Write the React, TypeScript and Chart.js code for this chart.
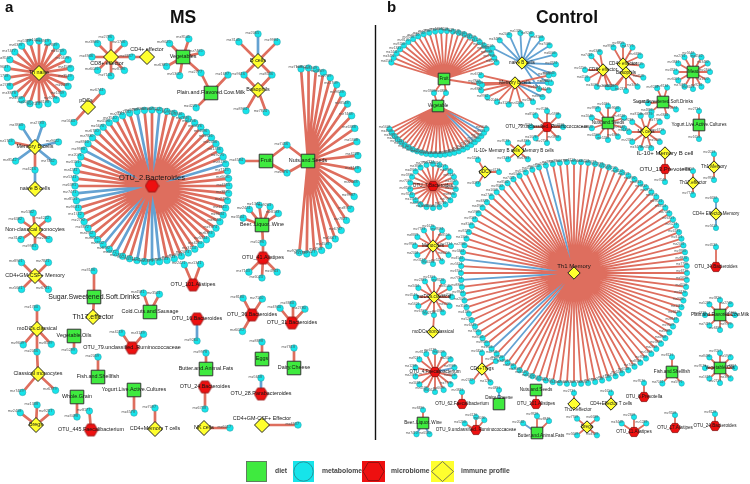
import React, { useEffect, useRef } from 'react';
import { Chart, registerables } from 'chart.js';

Chart.register(...registerables);

type Kind = 'diet' | 'micro' | 'immune';
// id, label, kind, x, y, labelDx, labelDy, fontPx
type Hub = [string, string, Kind, number, number, number?, number?, number?];
// hubId, count, rx, ry, startAngle, endAngle, blue edge indices
type Ring = [string, number, number, number, number, number, number[]];
// hubId, radius, angles, blue edge indices
type Cluster = [string, number, number[], number[]];
// id, x, y (standalone metabolite nodes)
type Chain = [string, number, number];
// from, to, blue(1)/red(0)
type Link = [string, string, number];

// ---------------- MS network ----------------
const msHubs: Hub[] = [
  ['thn', 'Th naive', 'immune', 39, 73],
  ['cd8e', 'CD8+ effector', 'immune', 111, 57, -4, 7],
  ['cd4e', 'CD4+ effector', 'immune', 147, 57, 0, -7],
  ['veg', 'Vegetables', 'diet', 183, 57],
  ['plain', 'Plain.and.Flavored.Cow.Milk', 'diet', 211, 93],
  ['bc', 'B cells', 'immune', 258, 61],
  ['baso', 'Basophils', 'immune', 258, 90],
  ['pdc', 'pDCs', 'immune', 88, 107, -2, -6],
  ['otu2', 'OTU_2.Bacteroides', 'micro', 152, 186, 0, -8, 7.5],
  ['fruit', 'Fruit', 'diet', 266, 161],
  ['nuts', 'Nuts.and.Seeds', 'diet', 308, 161],
  ['beer', 'Beer..Liquor..Wine', 'diet', 262, 225],
  ['otu41', 'OTU_41.Alistipes', 'micro', 263, 258],
  ['mbc', 'Memory B cells', 'immune', 35, 147],
  ['nbc', 'naive B cells', 'immune', 35, 189],
  ['ncm', 'Non-classical monocytes', 'immune', 35, 230],
  ['gmm', 'CD4+GM-CSF+ Memory', 'immune', 35, 276],
  ['sugar', 'Sugar.Sweetened.Soft.Drinks', 'diet', 94, 297, 0, 0, 7],
  ['th17e', 'Th17.effector', 'immune', 93, 317, 0, 0, 7],
  ['cold', 'Cold.Cuts.and.Sausage', 'diet', 150, 312],
  ['otu101', 'OTU_101.Alistipes', 'micro', 193, 285],
  ['otu16', 'OTU_16.Bacteroides', 'micro', 197, 319],
  ['otu36', 'OTU_36.Bacteroides', 'micro', 252, 315],
  ['otu31', 'OTU_31.Bacteroides', 'micro', 292, 323],
  ['modc', 'moDCs.classical', 'immune', 37, 329],
  ['cmono', 'Classical monocytes', 'immune', 38, 374],
  ['vego', 'Vegetable.Oils', 'diet', 74, 336],
  ['otu79', 'OTU_79.unclassified..Ruminococcaceae', 'micro', 132, 348],
  ['fish', 'Fish.and.Shellfish', 'diet', 98, 377],
  ['butter', 'Butter.and.Animal.Fats', 'diet', 206, 369],
  ['eggs', 'Eggs', 'diet', 262, 359],
  ['dairy', 'Dairy.Cheese', 'diet', 294, 368],
  ['otu24', 'OTU_24.Bacteroides', 'micro', 205, 387],
  ['otu28', 'OTU_28.Parabacteroides', 'micro', 261, 394],
  ['yog', 'Yogurt.Live.Active.Cultures', 'diet', 134, 390],
  ['wg', 'Whole.Grain', 'diet', 77, 397],
  ['bregs', 'Bregs', 'immune', 36, 425],
  ['otu445', 'OTU_445.Faecalibacterium', 'micro', 91, 430],
  ['cd4mt', 'CD4+Memory T cells', 'immune', 155, 429],
  ['nk', 'NK cells', 'immune', 204, 428],
  ['gme', 'CD4+GM-CSF+ Effector', 'immune', 262, 425, 0, -6],
];

const msRings: Ring[] = [
  ['thn', 22, 32, 32, -90, 270, []],
  ['otu2', 64, 77, 76, -90, 270, [62, 1, 53, 47, 46, 13, 37, 34, 32, 31, 39]],
  ['nuts', 24, 50, 93, -98, 100, []],
];

const msClusters: Cluster[] = [
  ['cd8e', 19, [45, 90, 135, 180, 225, 270, 315], []],
  ['veg', 19, [-135, -72, -13, 150, 100], []],
  ['plain', 21, [135], []],
  ['bc', 27, [-135, -90, -45], [1]],
  ['baso', 24, [120, 70], []],
  ['pdc', 21, [-47, 132], []],
  ['fruit', 24, [180], []],
  ['beer', 20, [-160, -129, -98, -66, -35], []],
  ['otu41', 20, [135, 93, 45], []],
  ['mbc', 24, [-123, -71, -168, -12, 144, 39], [0, 1, 3, 4, 5]],
  ['ncm', 17, [-145, -96, -40, 146, 34, 90], []],
  ['gmm', 19, [-135, -45, 45, 135], []],
  ['cold', 20, [-109, -62], []],
  ['otu101', 22, [-113, -70], []],
  ['otu16', 22, [90], [0]],
  ['otu36', 19, [-118, -57, 120], []],
  ['otu31', 19, [-129, -87, -47], []],
  ['modc', 21, [-90, 131, 47], []],
  ['cmono', 24, [130, 43], []],
  ['vego', 15, [90], []],
  ['otu79', 18, [-124, -50], []],
  ['fish', 20, [-90], []],
  ['butter', 16, [-90], []],
  ['eggs', 17, [-90], []],
  ['dairy', 20, [-90], []],
  ['otu24', 22, [90], []],
  ['otu28', 16, [-90], [0]],
  ['yog', 23, [90], []],
  ['wg', 20, [90], []],
  ['bregs', 20, [-142, -87, -40], []],
  ['otu445', 19, [-95], []],
  ['cd4mt', 21, [-90], []],
  ['nk', 26, [0], []],
  ['gme', 36, [0], []],
];

const msChain: Chain[] = [
  ['m1', 132, 57], ['m2', 201, 73], ['m3', 228, 75], ['m4', 244, 75], ['m5', 272, 75],
  ['m6', 287, 145], ['m7', 287, 173], ['m8', 263, 243], ['m9', 35, 170], ['m10', 94, 271],
  ['m11', 37, 352],
];

const msLinks: Link[] = [
  ['cd8e', 'm1', 0], ['m1', 'cd4e', 0],
  ['veg', 'm2', 0], ['m2', 'plain', 0], ['plain', 'm3', 0],
  ['bc', 'm4', 0], ['m4', 'baso', 0], ['bc', 'm5', 0], ['m5', 'baso', 0],
  ['fruit', 'm6', 0], ['m6', 'nuts', 0], ['fruit', 'm7', 0], ['m7', 'nuts', 0],
  ['beer', 'm8', 0], ['m8', 'otu41', 0],
  ['mbc', 'm9', 0], ['m9', 'nbc', 1],
  ['m10', 'sugar', 0], ['sugar', 'th17e', 0],
  ['modc', 'm11', 0], ['m11', 'cmono', 0],
];

// ---------------- Control network ----------------
const ctHubs: Hub[] = [
  ['fr', 'Fruit', 'diet', 444, 79],
  ['vg', 'Vegetable', 'diet', 438, 106],
  ['nb', 'naive B cells', 'immune', 522, 63],
  ['mb', 'Memory B cells', 'immune', 515, 83],
  ['c8', 'CD8+ effector', 'immune', 603, 70],
  ['c4', 'CD4+ effector', 'immune', 623, 64],
  ['bs', 'Basophils', 'immune', 626, 73],
  ['mt', 'Meat', 'diet', 693, 72],
  ['sg', 'Sugar.Sweetened.Soft.Drinks', 'diet', 663, 102],
  ['ns', 'Nuts.and.Seeds', 'diet', 608, 123],
  ['nkc', 'NK cells', 'immune', 646, 132],
  ['yg', 'Yogurt.Live.Active.Cultures', 'diet', 699, 125],
  ['o79', 'OTU_79.unclassified..Ruminococcaceae', 'micro', 547, 127],
  ['il', 'IL-10+ Memory B cells  Memory B cells', 'immune', 518, 151, -4, 0],
  ['o7', 'OTU_7.Bacteroides', 'micro', 433, 186],
  ['pd', 'pDCs', 'immune', 485, 172],
  ['ilb', 'IL-10+ Memory B cell', 'immune', 665, 153, 0, 0, 6],
  ['o13', 'OTU_13.Prevotella', 'micro', 665, 169, 0, 0, 6],
  ['t1m', 'Th1 Memory', 'immune', 714, 167],
  ['t17', 'Th17.effector', 'immune', 693, 183],
  ['cem', 'CD4+ Effector Memory', 'immune', 716, 214],
  ['o34', 'OTU_34.Bacteroides', 'micro', 716, 267],
  ['mo', 'Monocytes', 'immune', 433, 246],
  ['th1', 'Th1 Memory', 'immune', 574, 273, 0, -7, 6],
  ['mdc', 'moDCs.classical', 'immune', 434, 297],
  ['mdn', 'moDCs.nonclassical', 'immune', 433, 332],
  ['pfm', 'Plain.and.Flavored.Cow.Milk', 'diet', 720, 315],
  ['o4', 'OTU_4.Faecalibacterium', 'micro', 435, 372],
  ['trg', 'CD4+Tregs', 'immune', 482, 369],
  ['fs', 'Fish.and.Shellfish', 'diet', 672, 372],
  ['vo', 'Vegetable.Oils', 'diet', 720, 368],
  ['ns2', 'Nuts.and.Seeds', 'diet', 536, 390],
  ['o101', 'OTU_101.Alistipes', 'micro', 536, 404],
  ['dc', 'Dairy.Cheese', 'diet', 499, 404, 0, -6],
  ['o62', 'OTU_62.Faecalibacterium', 'micro', 462, 404],
  ['t17b', 'Th17.effector', 'immune', 574, 404, 4, 6],
  ['cet', 'CD4+Effector T cells', 'immune', 611, 404],
  ['o6', 'OTU_6.Prevotella', 'micro', 644, 397],
  ['bw', 'Beer..Liquor..Wine', 'diet', 423, 423],
  ['o9', 'OTU_9.unclassified..Ruminococcaceae', 'micro', 476, 430],
  ['ba', 'Butter.and.Animal.Fats', 'diet', 537, 433, 4, 3],
  ['br', 'Bregs', 'immune', 587, 427],
  ['o11', 'OTU_11.Alistipes', 'micro', 634, 432],
  ['o17', 'OTU_17.Alistipes', 'micro', 675, 428],
  ['o24', 'OTU_24.Bacteroides', 'micro', 715, 426],
];

const ctRings: Ring[] = [
  ['fr', 24, 56, 48, -160, -20, []],
  ['vg', 26, 55, 49, 152, 28, [21, 24]],
  ['nb', 12, 34, 30, -150, 60, [0, 1, 2, 3, 4, 5, 6, 7, 8, 9, 10, 11]],
  ['mb', 12, 36, 22, -20, 200, [1, 3]],
  ['mt', 12, 17, 17, -90, 270, []],
  ['ns', 10, 17, 17, -90, 270, []],
  ['nkc', 10, 17, 17, -72, 288, []],
  ['o79', 8, 16, 16, -90, 270, []],
  ['o7', 22, 23, 22, -90, 270, []],
  ['mo', 12, 18, 18, -90, 270, []],
  ['th1', 100, 113, 111, -90, 270, [96, 77, 74, 63, 61]],
  ['mdc', 11, 18, 18, 120, 420, []],
  ['pfm', 8, 15, 15, -90, 270, []],
  ['o4', 14, 20, 20, -90, 270, [3]],
  ['vo', 8, 15, 15, -90, 270, []],
];

const ctClusters: Cluster[] = [
  ['c8', 18, [-130, -100, 180, 150, 110, 75], []],
  ['c4', 19, [-120, -90, -60, -25, 5], []],
  ['bs', 18, [15, 50, 90, 125], []],
  ['sg', 15, [-113, -74, 175, 30, 140, 74], []],
  ['yg', 14, [-90, 90], []],
  ['il', 13, [-140, -40, 140, 40], []],
  ['pd', 14, [-120, 0, 120], []],
  ['t1m', 13, [-90, 90], []],
  ['t17', 12, [-90, 90], []],
  ['cem', 14, [-90, 90], [0, 1]],
  ['o34', 20, [-90], []],
  ['trg', 16, [-90, 128, 58, -30], []],
  ['fs', 15, [-90, 130, 50], []],
  ['dc', 14, [-90], [0]],
  ['o62', 12, [-90], []],
  ['t17b', 11, [-90], []],
  ['cet', 11, [-90], []],
  ['o6', 14, [-90], []],
  ['bw', 13, [-90, 120, 60], [1, 2]],
  ['o9', 13, [-150, -90, -50], []],
  ['ba', 17, [-145, -90, -45], [0]],
  ['br', 13, [-140, -40, 140, 40], []],
  ['o11', 15, [-145, -90, -35], []],
  ['o17', 13, [-90], []],
  ['o24', 12, [-90], []],
  ['o13', 13, [90], []],
];

const ctChain: Chain[] = [
  ['k1', 434, 93], ['k2', 446, 93], ['k3', 482, 85], ['k4', 434, 315], ['k5', 613, 88],
];

const ctLinks: Link[] = [
  ['fr', 'k1', 0], ['k1', 'vg', 0], ['fr', 'k2', 0], ['k2', 'vg', 0],
  ['fr', 'k3', 0], ['k3', 'mb', 0],
  ['mdc', 'k4', 0], ['k4', 'mdn', 0],
  ['c8', 'k5', 0], ['k5', 'bs', 0],
  ['ilb', 'o13', 0], ['ns2', 'o101', 0],
];

const legendItems = ['diet', 'metabolome', 'microbiome', 'immune profile'];

// ---------------- helpers ----------------
type P = { x: number; y: number | null };
interface HubNode { x: number; y: number; label: string; kind: Kind; dx: number; dy: number; fs: number | null }
interface Built { leaves: P[]; red: P[]; blue: P[]; hubs: HubNode[] }

function build(hubs: Hub[], rings: Ring[], clusters: Cluster[], chain: Chain[], links: Link[]): Built {
  const pos = new Map<string, [number, number]>();
  hubs.forEach((h) => pos.set(h[0], [h[3], h[4]]));
  chain.forEach((c) => pos.set(c[0], [c[1], c[2]]));
  const leaves: P[] = [];
  const red: P[] = [];
  const blue: P[] = [];
  const edge = (a: [number, number], b: [number, number], isBlue: boolean) => {
    const arr = isBlue ? blue : red;
    arr.push({ x: a[0], y: a[1] }, { x: b[0], y: b[1] }, { x: b[0], y: null });
  };
  rings.forEach(([id, n, rx, ry, a0, a1, bl]) => {
    const c = pos.get(id)!;
    const full = Math.abs(a1 - a0) >= 360;
    const step = full ? (a1 - a0) / n : n > 1 ? (a1 - a0) / (n - 1) : 0;
    for (let i = 0; i < n; i++) {
      const t = ((a0 + i * step) * Math.PI) / 180;
      const p: [number, number] = [c[0] + rx * Math.cos(t), c[1] + ry * Math.sin(t)];
      leaves.push({ x: p[0], y: p[1] });
      edge(c, p, bl.includes(i));
    }
  });
  clusters.forEach(([id, r, angles, bl]) => {
    const c = pos.get(id)!;
    angles.forEach((a, i) => {
      const t = (a * Math.PI) / 180;
      const p: [number, number] = [c[0] + r * Math.cos(t), c[1] + r * Math.sin(t)];
      leaves.push({ x: p[0], y: p[1] });
      edge(c, p, bl.includes(i));
    });
  });
  chain.forEach((c) => leaves.push({ x: c[1], y: c[2] }));
  links.forEach(([a, b, bl]) => edge(pos.get(a)!, pos.get(b)!, bl === 1));
  const hubNodes: HubNode[] = hubs.map((h) => ({
    x: h[3], y: h[4], label: h[1], kind: h[2], dx: h[5] ?? 0, dy: h[6] ?? 0, fs: h[7] ?? null,
  }));
  return { leaves, red, blue, hubs: hubNodes };
}

function hexPath(g: CanvasRenderingContext2D, cx: number, cy: number, r: number) {
  g.beginPath();
  for (let k = 0; k < 6; k++) {
    const a = (Math.PI / 3) * k;
    const px = cx + r * Math.cos(a);
    const py = cy + r * Math.sin(a);
    if (k === 0) g.moveTo(px, py);
    else g.lineTo(px, py);
  }
  g.closePath();
}

function hexCanvas(size: number): HTMLCanvasElement {
  const c = document.createElement('canvas');
  c.width = size;
  c.height = size;
  const g = c.getContext('2d')!;
  hexPath(g, size / 2, size / 2, size / 2 - 0.7);
  g.fillStyle = '#EE1010';
  g.fill();
  g.lineWidth = 0.8;
  g.strokeStyle = '#8a1010';
  g.stroke();
  return c;
}

const FONT = '"Liberation Sans", Arial, sans-serif';
const RED_EDGE = 'rgb(222,110,94)';
const BLUE_EDGE = 'rgb(100,162,210)';
const CYAN = '#16E4EA';
const GREEN = '#3FEA3F';
const YELLOW = '#FFFF2E';

export default function App() {
  const ref = useRef<HTMLCanvasElement>(null);

  useEffect(() => {
    document.body.style.margin = '0';
    const ms = build(msHubs, msRings, msClusters, msChain, msLinks);
    const ct = build(ctHubs, ctRings, ctClusters, ctChain, ctLinks);
    const hexMs = hexCanvas(15);
    const hexCt = hexCanvas(12);
    const pick = (b: Built, k: Kind) => b.hubs.filter((h) => h.kind === k).map((h) => ({ x: h.x, y: h.y }));

    const edgeDs = (data: P[], color: string, w: number) => ({
      data, showLine: true, borderColor: color, borderWidth: w, pointRadius: 0, pointHoverRadius: 0, spanGaps: false, order: 20,
    });
    const nodeDs = (data: P[], style: any, r: number, bg: string, border: string, bw: number, order: number) => ({
      data, pointStyle: style, pointRadius: r, pointHoverRadius: r, pointBackgroundColor: bg,
      pointBorderColor: border, pointBorderWidth: bw, showLine: false, order,
    });

    const overlay = {
      id: 'overlay',
      afterDatasetsDraw(chart: any) {
        const ctx: CanvasRenderingContext2D = chart.ctx;
        const xs = chart.scales.x;
        const ys = chart.scales.y;
        ctx.save();
        // metabolite labels
        ctx.fillStyle = '#555';
        ctx.textAlign = 'right';
        ctx.textBaseline = 'middle';
        [ms, ct].forEach((b, pi) => {
          ctx.font = `${pi === 0 ? 3.8 : 3.3}px ${FONT}`;
          b.leaves.forEach((p, i) => {
            const id = 'mz' + String(1000 + ((i * 7919 + pi * 3571) % 8999));
            ctx.fillText(id, xs.getPixelForValue(p.x) + 1, ys.getPixelForValue(p.y as number) - 1.5);
          });
        });
        // hub labels
        ctx.fillStyle = '#151515';
        ctx.textAlign = 'center';
        [ms, ct].forEach((b, pi) => {
          b.hubs.forEach((h) => {
            const fs = h.fs ?? (pi === 0 ? 5.4 : 4.6);
            ctx.font = `${fs}px ${FONT}`;
            ctx.fillText(h.label, xs.getPixelForValue(h.x + h.dx), ys.getPixelForValue(h.y + h.dy));
          });
        });
        ctx.restore();
      },
      afterDraw(chart: any) {
        const ctx: CanvasRenderingContext2D = chart.ctx;
        const xs = chart.scales.x;
        const ys = chart.scales.y;
        const X = (v: number) => xs.getPixelForValue(v);
        const Y = (v: number) => ys.getPixelForValue(v);
        ctx.save();
        ctx.fillStyle = '#111';
        ctx.textBaseline = 'middle';
        ctx.textAlign = 'left';
        ctx.font = `bold 15px ${FONT}`;
        ctx.fillText('a', X(5), Y(8));
        ctx.fillText('b', X(387), Y(8));
        ctx.textAlign = 'center';
        ctx.font = `bold 17.5px ${FONT}`;
        ctx.fillText('MS', X(183), Y(18));
        ctx.fillText('Control', X(567), Y(18));
        // divider
        ctx.strokeStyle = '#111';
        ctx.lineWidth = 1.4;
        ctx.beginPath();
        ctx.moveTo(X(375.5), Y(25));
        ctx.lineTo(X(375.5), Y(440));
        ctx.stroke();
        // legend
        const boxX = [246, 293, 362, 431];
        const txtX = [275, 322, 391, 461];
        const top = Y(461);
        const sz = 21;
        legendItems.forEach((t, i) => {
          const bx = X(boxX[i]);
          const cx = bx + sz / 2;
          const cy = top + sz / 2;
          ctx.lineWidth = 0.8;
          if (i === 0) {
            ctx.fillStyle = GREEN;
            ctx.fillRect(bx, top, sz, sz);
            ctx.strokeStyle = '#666';
            ctx.strokeRect(bx + 0.5, top + 0.5, sz - 1, sz - 1);
          } else if (i === 1) {
            ctx.fillStyle = CYAN;
            ctx.fillRect(bx, top, sz, sz);
            ctx.strokeStyle = '#2a7f86';
            ctx.beginPath();
            ctx.arc(cx, cy, sz / 2 - 0.8, 0, Math.PI * 2);
            ctx.stroke();
          } else if (i === 2) {
            ctx.fillStyle = '#EE1010';
            ctx.fillRect(bx, top, sz + 2, sz);
            ctx.strokeStyle = '#7a1010';
            hexPath(ctx, cx + 1, cy, sz / 2);
            ctx.stroke();
          } else {
            ctx.fillStyle = YELLOW;
            ctx.fillRect(bx, top, sz + 2, sz);
            ctx.strokeStyle = '#555';
            ctx.beginPath();
            ctx.moveTo(cx + 1, top + 0.5);
            ctx.lineTo(bx + sz + 1.5, cy);
            ctx.lineTo(cx + 1, top + sz - 0.5);
            ctx.lineTo(bx + 0.5, cy);
            ctx.closePath();
            ctx.stroke();
          }
          ctx.fillStyle = '#444';
          ctx.textAlign = 'left';
          ctx.font = `bold 6.8px ${FONT}`;
          ctx.fillText(t, X(txtX[i]), cy);
        });
        ctx.restore();
      },
    };

    const chart = new Chart(ref.current!, {
      type: 'scatter',
      data: {
        datasets: [
          edgeDs(ms.red, RED_EDGE, 2.7) as any,
          edgeDs(ms.blue, BLUE_EDGE, 2.7),
          edgeDs(ct.red, RED_EDGE, 1.8),
          edgeDs(ct.blue, BLUE_EDGE, 1.8),
          nodeDs(ms.leaves, 'circle', 3.3, CYAN, '#2e9aa3', 0.5, 10),
          nodeDs(ct.leaves, 'circle', 2.7, CYAN, '#2e9aa3', 0.5, 10),
          nodeDs(pick(ms, 'diet'), 'rect', 9.6, GREEN, '#333', 1, 5),
          nodeDs(pick(ct, 'diet'), 'rect', 8.2, GREEN, '#333', 1, 5),
          nodeDs(pick(ms, 'micro'), hexMs, 7, '#EE1010', '#800', 1, 5),
          nodeDs(pick(ct, 'micro'), hexCt, 6, '#EE1010', '#800', 1, 5),
          nodeDs(pick(ms, 'immune'), 'rectRot', 7.5, YELLOW, '#222', 1, 5),
          nodeDs(pick(ct, 'immune'), 'rectRot', 6.2, YELLOW, '#222', 1, 5),
        ],
      },
      options: {
        animation: false,
        responsive: true,
        maintainAspectRatio: false,
        devicePixelRatio: 1,
        layout: { padding: 0, autoPadding: false },
        events: [],
        plugins: { legend: { display: false }, tooltip: { enabled: false }, title: { display: false } },
        scales: {
          x: { type: 'linear', min: 0, max: 750, display: false },
          y: { type: 'linear', min: 0, max: 484, reverse: true, display: false },
        },
      },
      plugins: [overlay],
    });
    return () => chart.destroy();
  }, []);

  return (
    <div style={{ position: 'absolute', left: 0, top: 0, width: 750, height: 484, background: '#fff' }}>
      <canvas ref={ref} />
    </div>
  );
}
